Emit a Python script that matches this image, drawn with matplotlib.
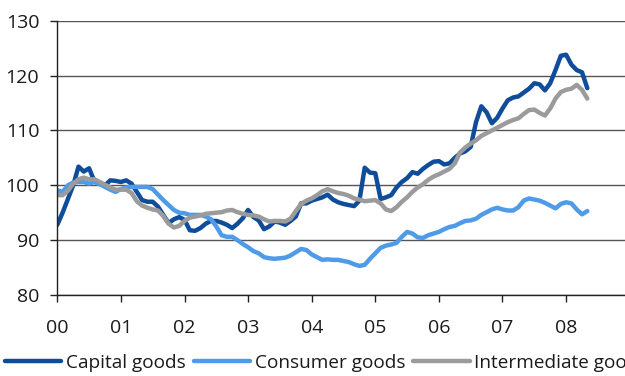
import matplotlib
matplotlib.use("Agg")
import matplotlib.pyplot as plt
import numpy as np

# monthly index values, Jan 2000 .. May 2008
capital = [
    92.8, 95.0, 97.5, 100.0, 103.4, 102.5, 103.1, 100.7, 100.3, 100.0, 100.9, 100.8,
    100.6, 100.9, 100.3, 98.8, 97.3, 97.0, 97.0, 96.1, 94.6, 93.1, 93.8, 94.2,
    93.7, 91.8, 91.7, 92.2, 93.0, 93.5, 93.5, 93.2, 92.8, 92.2, 93.0, 94.0,
    95.5, 94.2, 93.6, 92.0, 92.5, 93.4, 93.2, 92.8, 93.5, 94.3, 96.7, 96.7,
    97.2, 97.5, 97.8, 98.3, 97.4, 96.9, 96.6, 96.4, 96.2, 97.2, 103.2, 102.3,
    102.2, 97.5, 97.8, 98.2, 99.6, 100.6, 101.3, 102.4, 102.1, 103.0, 103.7, 104.3,
    104.4, 103.8, 104.0, 105.0, 105.8, 106.2, 107.0, 111.5, 114.4, 113.3, 111.3, 112.3,
    114.0, 115.5, 116.0, 116.2, 116.9, 117.6, 118.6, 118.4, 117.3, 118.6, 121.0, 123.6,
    123.8, 122.0, 121.0, 120.6, 117.7,
]
consumer = [
    99.1, 98.8, 100.0, 100.5, 100.6, 100.6, 100.3, 100.6, 100.2, 99.7, 99.2, 98.8,
    99.3, 99.6, 99.7, 99.7, 99.7, 99.7, 99.3, 98.3, 97.3, 96.4, 95.5, 95.0,
    94.9, 94.6, 94.6, 94.6, 94.3, 93.8, 92.5, 90.9, 90.6, 90.6, 90.0, 89.3,
    88.7, 88.0, 87.6, 86.9, 86.7, 86.6, 86.7, 86.8, 87.2, 87.8, 88.4, 88.2,
    87.4, 86.9, 86.4, 86.5, 86.4, 86.4, 86.2, 86.0, 85.6, 85.3, 85.5, 86.6,
    87.6, 88.6, 89.0, 89.2, 89.5, 90.6, 91.5, 91.2, 90.5, 90.4, 90.9, 91.2,
    91.5, 92.0, 92.4, 92.6, 93.1, 93.5, 93.6, 93.9, 94.6, 95.1, 95.6, 95.9,
    95.6, 95.4, 95.4, 96.0, 97.2, 97.6, 97.4, 97.2, 96.8, 96.3, 95.8, 96.6,
    96.9, 96.7, 95.6, 94.7, 95.3,
]
intermediate = [
    98.2, 98.2, 99.0, 100.3, 101.1, 101.4, 101.1, 101.1, 100.6, 100.1, 99.6, 99.2,
    99.2, 99.2, 98.6, 97.1, 96.3, 95.9, 95.6, 95.4, 94.4, 93.0, 92.3, 92.6,
    93.5, 94.1, 94.3, 94.5, 94.8, 94.9, 95.0, 95.1, 95.4, 95.5, 95.1, 94.8,
    94.6, 94.5, 94.3, 93.8, 93.4, 93.5, 93.5, 93.4, 93.9, 95.3, 96.6, 97.2,
    97.6, 98.2, 98.9, 99.3, 98.9, 98.6, 98.4, 98.1, 97.6, 97.4, 97.1, 97.2,
    97.3, 96.7, 95.6, 95.3, 96.0, 97.0, 97.8, 98.8, 99.6, 100.2, 101.0, 101.6,
    102.0, 102.5, 103.0, 104.0, 106.0, 106.9, 107.6, 108.2, 109.0, 109.5, 110.0, 110.5,
    111.0, 111.5, 111.9, 112.2, 113.0, 113.7, 113.8, 113.2, 112.7, 114.0, 115.8, 117.0,
    117.4, 117.6, 118.3, 117.4, 115.8,
]
year_labels = ["00", "01", "02", "03", "04", "05", "06", "07", "08"]
y_ticks = [80, 90, 100, 110, 120, 130]

plt.rcParams['font.family'] = ['Open Sans', 'DejaVu Sans']

t = np.arange(len(capital)) / 12.0

fig = plt.figure(figsize=(6.25, 3.76), dpi=100)
ax = fig.add_axes([57.3 / 625, 1 - 295 / 376, 572.4 / 625, 274.3 / 376])

ax.plot(t, capital, color="#0f4c9a", lw=3.2, label="Capital goods",
        solid_joinstyle="round", solid_capstyle="round")
ax.plot(t, consumer, color="#4f9be8", lw=3.2, label="Consumer goods",
        solid_joinstyle="round", solid_capstyle="round")
ax.plot(t, intermediate, color="#9b9b9b", lw=3.2, label="Intermediate goods",
        solid_joinstyle="round", solid_capstyle="round")

ax.set_xlim(0, 9)
ax.set_ylim(80, 130)
ax.set_xticks(range(len(year_labels)))
ax.set_xticklabels(year_labels)
ax.set_yticks(y_ticks)
ax.yaxis.grid(True, color="#555555", lw=1.0)
ax.set_axisbelow(True)

for side in ["top", "right"]:
    ax.spines[side].set_visible(False)
for side in ["left", "bottom"]:
    ax.spines[side].set_color("#222222")
    ax.spines[side].set_linewidth(1.0)

ax.tick_params(axis="both", direction="out", length=5, width=1.0,
               color="#222222", labelsize=14, labelcolor="#1a1a1a")
ax.tick_params(axis="x", pad=12)
ax.tick_params(axis="y", pad=8)

fig.legend(loc="center left", bbox_to_anchor=(5 / 625, 1 - 363 / 376), ncol=3,
           frameon=False, fontsize=13.7, handlelength=2.95, handletextpad=0.26,
           columnspacing=0.42, borderaxespad=0, borderpad=0,
           labelcolor="#1a1a1a")

fig.savefig("out.png", dpi=100)
